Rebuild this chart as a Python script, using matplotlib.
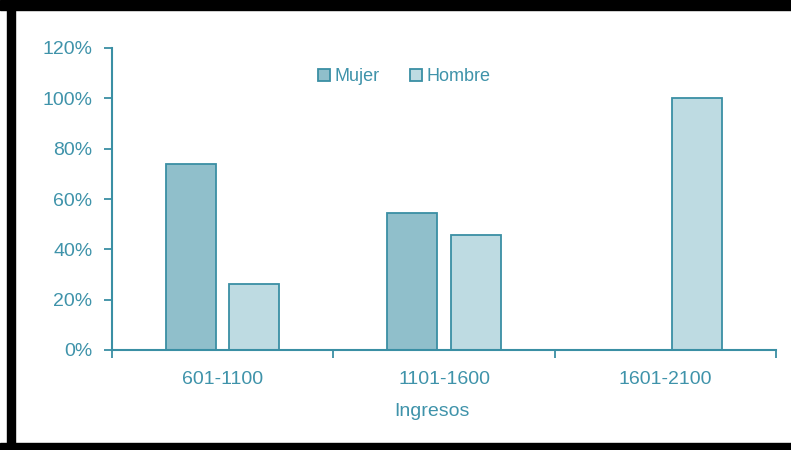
import matplotlib
matplotlib.use("Agg")
import matplotlib.pyplot as plt
from matplotlib.patches import Rectangle
import numpy as np

# data
ingresos = ["601-1100", "1101-1600", "1601-2100"]
mujer = [73.9, 54.5, 0.0]
hombre = [26.1, 45.5, 100.0]

teal = "#3a8fa4"
text_col = "#3f93aa"
mujer_col = "#90bfcb"
hombre_col = "#bedbe2"

plt.rcParams["font.family"] = ["Liberation Sans", "DejaVu Sans"]

fig = plt.figure(figsize=(7.91, 4.5), dpi=100)
ax = fig.add_axes([112 / 791, 100 / 450, (776 - 112) / 791, (350 - 48) / 450])

x = np.arange(len(ingresos))
w = 0.226
off = 0.143
ax.bar(x - off, mujer, w, color=mujer_col, edgecolor=teal, linewidth=1.3, label="Mujer")
ax.bar(x + off, hombre, w, color=hombre_col, edgecolor=teal, linewidth=1.3, label="Hombre")

ax.set_xlim(-0.5, len(ingresos) - 0.5)
ax.set_ylim(0, 120)
ax.set_yticks(range(0, 121, 20))
ax.set_yticklabels([f"{v}%" for v in range(0, 121, 20)])
ax.set_xticks(x)
ax.set_xticklabels(ingresos)
ax.set_xticks(np.arange(-0.5, len(ingresos)), minor=True)
ax.tick_params(axis="x", which="major", length=0, pad=15, labelsize=14, labelcolor=text_col)
ax.tick_params(axis="x", which="minor", length=6, width=1.3, color=teal)
ax.tick_params(axis="y", length=6, width=1.3, color=teal, labelsize=14, labelcolor=text_col, pad=8)

for s in ["top", "right"]:
    ax.spines[s].set_visible(False)
for s in ["left", "bottom"]:
    ax.spines[s].set_color(teal)
    ax.spines[s].set_linewidth(1.5)

ax.set_xlabel("Ingresos", fontsize=14, color=text_col, va="center")
ax.xaxis.set_label_coords((432 - 112) / 664, (350 - 412) / 302)

leg = ax.legend(loc="center", bbox_to_anchor=(0.44, 0.904), ncol=2, frameon=False,
                fontsize=13, handlelength=0.65, handleheight=0.65, handletextpad=0.25,
                columnspacing=1.7)
for t in leg.get_texts():
    t.set_color(text_col)

# black frame on top, left and bottom
fig.patches.append(Rectangle((0, 440 / 450), 1, 10 / 450, transform=fig.transFigure,
                             color="black", zorder=10))
fig.patches.append(Rectangle((7 / 791, 0), 8 / 791, 1, transform=fig.transFigure,
                             color="black", zorder=10))
fig.patches.append(Rectangle((0, 0), 1, 7 / 450, transform=fig.transFigure,
                             color="black", zorder=10))

fig.savefig("out.png", dpi=100)
